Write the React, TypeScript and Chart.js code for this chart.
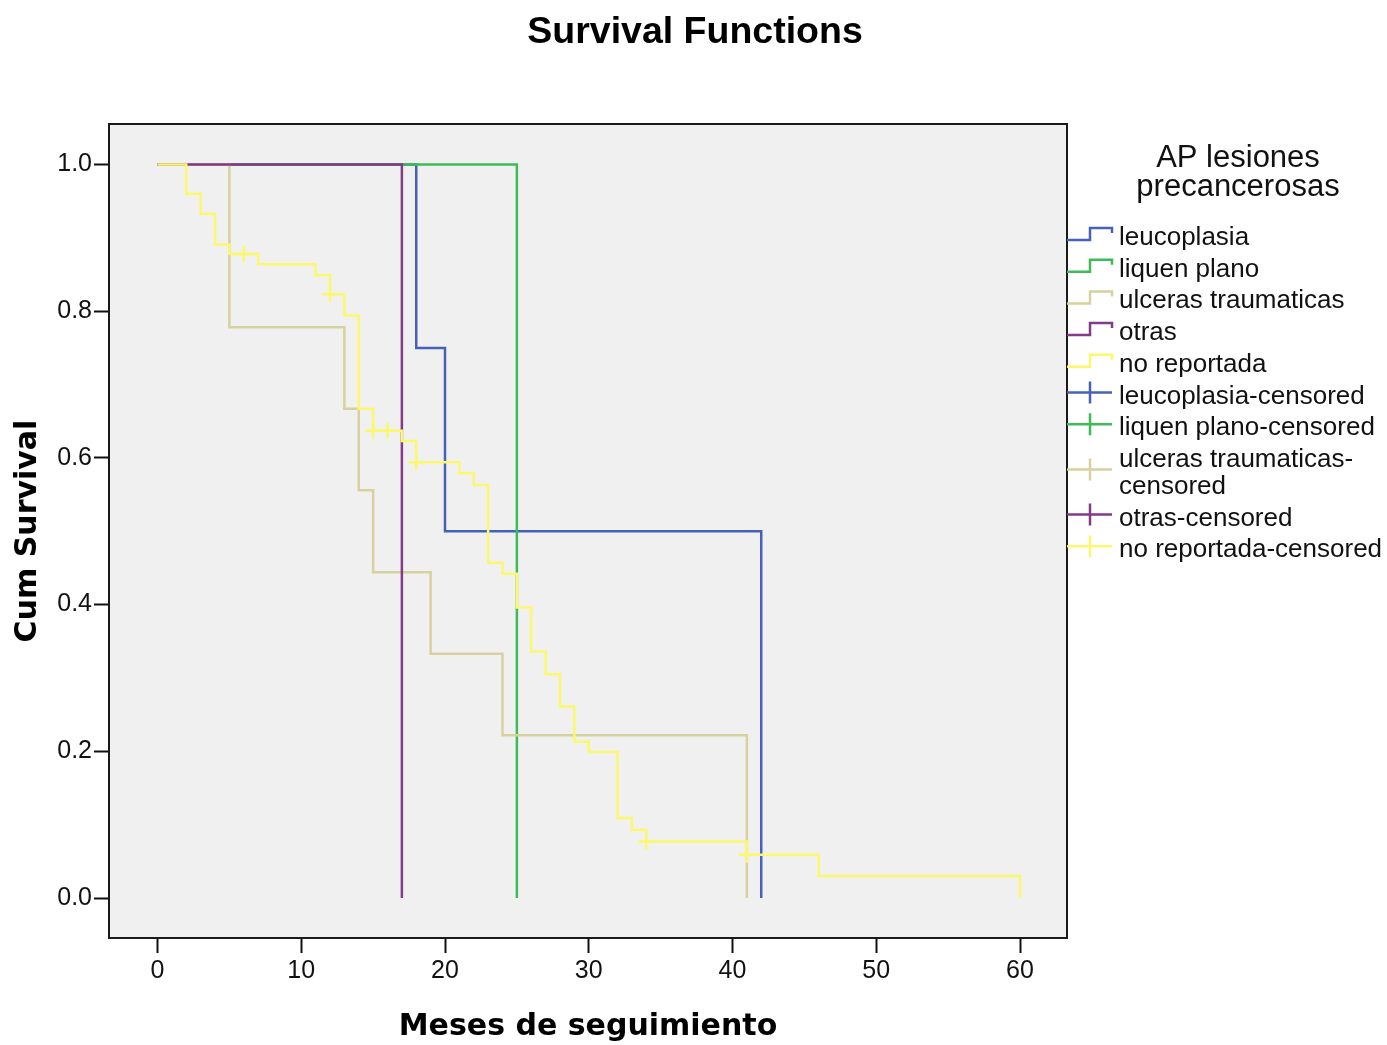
import React, { useEffect, useRef } from "react";
import { Chart, registerables } from "chart.js";

Chart.register(...registerables);

// ---- Data ----
const chartTitle = "Survival Functions";
const xAxisTitle = "Meses de seguimiento";
const yAxisTitle = "Cum Survival";
const legendTitle = ["AP lesiones", "precancerosas"];

const groupNames = ["leucoplasia", "liquen plano", "ulceras traumaticas", "otras", "no reportada"];
const groupColors = ["#4561b8", "#3dbb55", "#d6d19f", "#843a86", "#fbf86e"];

const leucoTimes = [0, 18, 20, 42];
const leucoSurv = [1, 0.75, 0.5, 0];

const liquenTimes = [0, 25];
const liquenSurv = [1, 0];

const ulcerasTimes = [0, 5, 13, 14, 15, 19, 24, 41];
const ulcerasSurv = [1, 0.778, 0.667, 0.556, 0.444, 0.333, 0.222, 0];

const otrasTimes = [0, 17];
const otrasSurv = [1, 0];

const noRepTimes = [0, 2, 3, 4, 5, 7, 11, 12, 13, 14, 15, 17, 18, 21, 22, 23, 24, 25, 26, 27, 28, 29, 30, 32, 33, 34, 41, 46, 60];
const noRepSurv = [1, 0.96, 0.933, 0.891, 0.878, 0.864, 0.849, 0.823, 0.794, 0.667, 0.637, 0.623, 0.594, 0.579, 0.563, 0.457, 0.442, 0.396, 0.336, 0.305, 0.261, 0.213, 0.199, 0.109, 0.093, 0.077, 0.059, 0.03, 0];

const noRepCensorTimes = [6, 12, 15, 16, 18, 34, 41];
const noRepCensorSurv = [0.878, 0.823, 0.637, 0.637, 0.594, 0.077, 0.059];

const xTicks = [0, 10, 20, 30, 40, 50, 60];
const yTicks = [0, 0.2, 0.4, 0.6, 0.8, 1.0];

const curveTimes = [leucoTimes, liquenTimes, ulcerasTimes, otrasTimes, noRepTimes];
const curveSurv = [leucoSurv, liquenSurv, ulcerasSurv, otrasSurv, noRepSurv];
const drawOrder = [4, 3, 2, 1, 0]; // lower order drawn on top

const W = 1387;
const H = 1045;
const AREA = { left: 109, right: 1067, top: 124, bottom: 938 };

const decorPlugin = {
  id: "decor",
  beforeDatasetsDraw(chart: any) {
    const { ctx, chartArea } = chart;
    ctx.save();
    ctx.fillStyle = "#f0f0f0";
    ctx.fillRect(chartArea.left, chartArea.top, chartArea.right - chartArea.left, chartArea.bottom - chartArea.top);
    ctx.restore();
  },
  afterDatasetsDraw(chart: any) {
    const { ctx, chartArea } = chart;
    ctx.save();
    ctx.strokeStyle = "#1a1a1a";
    ctx.lineWidth = 2;
    ctx.strokeRect(chartArea.left, chartArea.top, chartArea.right - chartArea.left, chartArea.bottom - chartArea.top);
    ctx.restore();
  },
  afterDraw(chart: any) {
    const { ctx } = chart;
    ctx.save();
    // Title
    ctx.fillStyle = "#000";
    ctx.font = "bold 37.5px 'Liberation Sans', Arial, sans-serif";
    ctx.textAlign = "center";
    ctx.textBaseline = "alphabetic";
    ctx.fillText(chartTitle, 695, 43);

    // Legend title
    ctx.font = "31px 'Liberation Sans', Arial, sans-serif";
    ctx.fillStyle = "#111";
    ctx.fillText(legendTitle[0], 1238, 167);
    ctx.fillText(legendTitle[1], 1238, 196);

    // Legend items
    ctx.font = "26px 'Liberation Sans', Arial, sans-serif";
    ctx.textAlign = "left";
    const textX = 1119;
    const maxW = W - textX - 2;
    const items: { label: string; color: string; censored: boolean }[] = [];
    groupNames.forEach((n, i) => items.push({ label: n, color: groupColors[i], censored: false }));
    groupNames.forEach((n, i) => items.push({ label: n + "-censored", color: groupColors[i], censored: true }));
    let b = 245;
    const rowStep = 31.7;
    const wrapStep = 27;
    items.forEach((it) => {
      let lines = [it.label];
      if (ctx.measureText(it.label).width > maxW) {
        const k = it.label.lastIndexOf("-");
        lines = [it.label.slice(0, k + 1), it.label.slice(k + 1)];
      }
      ctx.fillStyle = "#111";
      lines.forEach((ln, j) => ctx.fillText(ln, textX, b + j * wrapStep));
      const lastB = b + (lines.length - 1) * wrapStep;
      ctx.strokeStyle = it.color;
      ctx.lineWidth = 2.5;
      ctx.beginPath();
      if (!it.censored) {
        ctx.moveTo(1067, b - 5);
        ctx.lineTo(1090, b - 5);
        ctx.lineTo(1090, b - 17);
        ctx.lineTo(1112, b - 17);
        ctx.lineTo(1112, b - 12);
      } else {
        const cy = (b - 11 + lastB - 11) / 2;
        ctx.moveTo(1067, cy);
        ctx.lineTo(1112, cy);
        ctx.moveTo(1090, cy - 11);
        ctx.lineTo(1090, cy + 11);
      }
      ctx.stroke();
      b = lastB + rowStep;
    });
    ctx.restore();
  },
};

export default function App() {
  const ref = useRef<HTMLCanvasElement | null>(null);

  useEffect(() => {
    if (!ref.current) return;
    const datasets: any[] = curveTimes.map((times, i) => ({
      label: groupNames[i],
      data: times.map((t, k) => ({ x: t, y: curveSurv[i][k] })),
      showLine: true,
      stepped: "before",
      borderColor: groupColors[i],
      backgroundColor: groupColors[i],
      borderWidth: 2.5,
      pointRadius: 0,
      fill: false,
      order: drawOrder[i],
    }));
    datasets.push({
      label: "no reportada-censored",
      data: noRepCensorTimes.map((t, k) => ({ x: t, y: noRepCensorSurv[k] })),
      showLine: false,
      pointStyle: "cross",
      pointRadius: 8,
      borderColor: groupColors[4],
      backgroundColor: groupColors[4],
      pointBorderWidth: 2.5,
      borderWidth: 2.5,
      order: -1,
    });

    const chart = new Chart(ref.current, {
      type: "scatter",
      data: { datasets },
      options: {
        animation: false,
        responsive: false,
        layout: { padding: { left: 0, top: AREA.top, right: W - AREA.right, bottom: 0 } },
        plugins: { legend: { display: false }, tooltip: { enabled: false }, title: { display: false } },
        events: [],
        scales: {
          x: {
            type: "linear",
            min: (AREA.left - 157.5) / 14.375,
            max: (AREA.right - 157.5) / 14.375,
            afterBuildTicks: (s: any) => {
              s.ticks = xTicks.map((v) => ({ value: v }));
            },
            afterFit: (s: any) => {
              s.height = H - AREA.bottom;
            },
            ticks: {
              font: { family: "'Liberation Sans', Arial, sans-serif", size: 25 },
              color: "#111",
              padding: 3,
              maxRotation: 0,
              autoSkip: false,
              callback: (v: any) => String(v),
            },
            grid: { drawOnChartArea: false, drawTicks: true, tickLength: 15, tickWidth: 2, tickColor: "#111" },
            border: { display: false },
            title: {
              display: true,
              text: xAxisTitle,
              font: { family: "'DejaVu Sans', sans-serif", size: 30, weight: "bold" },
              color: "#000",
              padding: { top: 0, bottom: 0 },
            },
          },
          y: {
            type: "linear",
            min: -(AREA.bottom - 898) / 733.5,
            max: 1 + (164.5 - AREA.top) / 733.5,
            afterBuildTicks: (s: any) => {
              s.ticks = yTicks.map((v) => ({ value: v }));
            },
            afterFit: (s: any) => {
              s.width = AREA.left;
            },
            ticks: {
              font: { family: "'Liberation Sans', Arial, sans-serif", size: 25 },
              color: "#111",
              padding: 2,
              autoSkip: false,
              callback: (v: any) => Number(v).toFixed(1),
            },
            grid: { drawOnChartArea: false, drawTicks: true, tickLength: 15, tickWidth: 2, tickColor: "#111" },
            border: { display: false },
            title: {
              display: true,
              text: yAxisTitle,
              font: { family: "'DejaVu Sans', sans-serif", size: 30, weight: "bold" },
              color: "#000",
              padding: { top: 10, bottom: 0 },
            },
          },
        },
      } as any,
      plugins: [decorPlugin],
    });
    return () => chart.destroy();
  }, []);

  return (
    <div style={{ position: "absolute", left: 0, top: 0, width: W, height: H, background: "#fff" }}>
      <canvas ref={ref} width={W} height={H} style={{ display: "block" }} />
    </div>
  );
}
